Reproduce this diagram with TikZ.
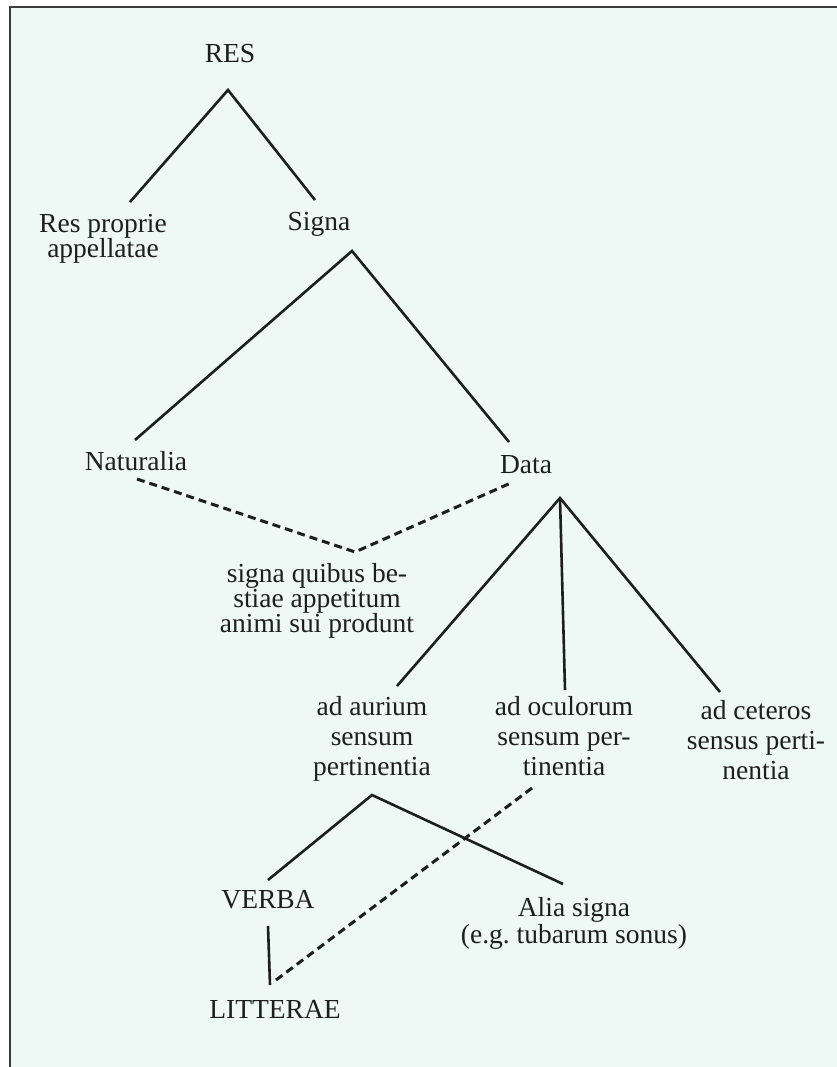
\documentclass[tikz,border=0pt]{standalone}
\usepackage{fontspec}
\setmainfont{Liberation Serif}
\definecolor{paper}{RGB}{238,248,245}
\definecolor{ink}{RGB}{30,30,30}
\definecolor{rule}{RGB}{60,60,60}
\begin{document}
\begin{tikzpicture}[x=1pt,y=-1pt,
  lbl/.style={inner sep=0pt, anchor=base, text=ink, align=center,
              font=\fontsize{27.5}{25}\selectfont},
  tall/.style={font=\fontsize{27.5}{30}\selectfont},
  branch/.style={draw=ink, line width=2.6pt},
  link/.style={draw=ink, line width=3pt, dash pattern=on 8pt off 5pt},
  frame/.style={draw=rule, line width=2pt}]
\useasboundingbox (0,0) rectangle (837,1067);
% page and its frame
\fill[white] (0,0) rectangle (837,1067);
\fill[paper] (10,7) rectangle (837,1067);
\draw[frame] (10,1067) -- (10,7) -- (837,7);

% labels (anchored on the baseline of their last line)
\node[lbl] (res) at (230,63) {RES};
\node[lbl] (resprop) at (103,258) {Res proprie\\appellatae};
\node[lbl] (signa) at (319,230) {Signa};
\node[lbl] (natur) at (136,470) {Naturalia};
\node[lbl] (data) at (526,473) {Data};
\node[lbl] (bestiae) at (317,632) {signa quibus be-\\stiae appetitum\\animi sui produnt};
\node[lbl,tall] (aures) at (372,775) {ad aurium\\sensum\\pertinentia};
\node[lbl,tall] (oculi) at (564,775) {ad oculorum\\sensum per-\\tinentia};
\node[lbl,tall] (ceteri) at (756,779) {ad ceteros\\sensus perti-\\nentia};
\node[lbl] (verba) at (268,908) {VERBA};
\node[lbl] (alia) at (574,943) {Alia signa\\(e.g.\ tubarum sonus)};
\node[lbl] (litt) at (275,1018) {LITTERAE};

% branch points and line ends
\coordinate (res-fork) at (228,90);
\coordinate (resprop-in) at (130,202);
\coordinate (signa-in) at (315,200);
\coordinate (signa-fork) at (352,251);
\coordinate (natur-in) at (135,440);
\coordinate (data-in) at (509,442);
\coordinate (natur-out) at (137,479);
\coordinate (data-out) at (513,482);
\coordinate (bestiae-in) at (355,552);
\coordinate (data-fork) at (560,498);
\coordinate (aures-in) at (397,686);
\coordinate (oculi-in) at (565,690);
\coordinate (ceteri-in) at (720,692);
\coordinate (aures-fork) at (372,795);
\coordinate (verba-in) at (268,880);
\coordinate (alia-in) at (563,884);
\coordinate (verba-out) at (268,926);
\coordinate (litt-in) at (270,985);
\coordinate (oculi-out) at (532,788);
\coordinate (litt-side) at (276,980);

% tree
\draw[branch] (resprop-in) -- (res-fork) -- (signa-in);
\draw[branch] (natur-in) -- (signa-fork) -- (data-in);
\draw[branch] (aures-in) -- (data-fork) -- (ceteri-in);
\draw[branch] (data-fork) -- (oculi-in);
\draw[branch] (verba-in) -- (aures-fork) -- (alia-in);
\draw[branch] (verba-out) -- (litt-in);

% dashed links
\draw[link] (natur-out) -- (bestiae-in) -- (data-out);
\draw[link] (oculi-out) -- (litt-side);
\end{tikzpicture}
\end{document}
